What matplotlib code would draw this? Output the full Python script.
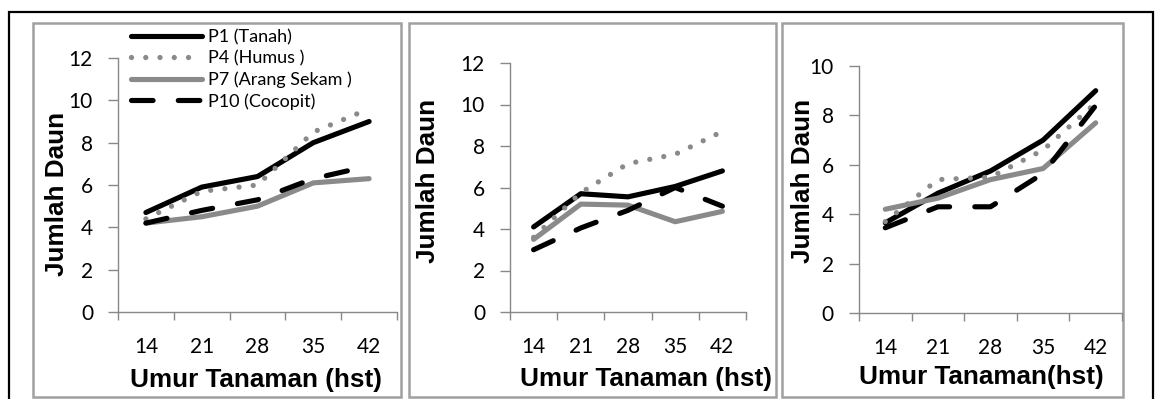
import matplotlib
matplotlib.use("Agg")
import matplotlib.pyplot as plt
from matplotlib.patches import Rectangle

# ---------------- data ----------------
x_labels = ["14", "21", "28", "35", "42"]
series_names = ["P1 (Tanah)", "P4 (Humus )", "P7 (Arang Sekam )", "P10 (Cocopit)"]

p1_a = [4.7, 5.9, 6.4, 8.0, 9.0]
p4_a = [4.4, 5.7, 6.0, 8.5, 9.6]
p7_a = [4.2, 4.5, 5.0, 6.1, 6.3]
p10_a = [4.2, 4.8, 5.3, 6.3, 6.9]

p1_b = [4.1, 5.7, 5.55, 6.05, 6.8]
p4_b = [3.6, 5.75, 7.15, 7.6, 8.7]
p7_b = [3.5, 5.2, 5.15, 4.35, 4.85]
p10_b = [3.0, 4.05, 4.9, 6.0, 5.1]

p1_c = [3.65, 4.85, 5.75, 7.0, 9.0]
p4_c = [3.7, 5.4, 5.5, 6.6, 8.5]
p7_c = [4.2, 4.65, 5.4, 5.85, 7.7]
p10_c = [3.45, 4.3, 4.3, 5.65, 8.4]

y_ticks_ab = [0, 2, 4, 6, 8, 10, 12]
y_ticks_c = [0, 2, 4, 6, 8, 10]
y_label = "Jumlah Daun"
x_label_ab = "Umur Tanaman (hst)"
x_label_c = "Umur Tanaman(hst)"

# ---------------- layout ----------------
W, H = 1159, 399
DPI = 100
fig = plt.figure(figsize=(W / DPI, H / DPI), dpi=DPI)
fig.patch.set_facecolor("white")

def fx(px):
    return px / W

def fy(py):
    return 1 - py / H

def add_axes_px(x0, x1, ytop, ybot):
    return fig.add_axes([fx(x0), fy(ybot), fx(x1) - fx(x0), (ybot - ytop) / H])

# outer black frame
fig.add_artist(Rectangle((fx(9), fy(410)), fx(1153) - fx(9), fy(12) - fy(410),
                         transform=fig.transFigure, fill=False, edgecolor="black",
                         lw=1.6, zorder=0))
# panel gray frames
for (x0, x1) in [(33, 401), (409, 776), (782, 1123)]:
    fig.add_artist(Rectangle((fx(x0), fy(397)), fx(x1) - fx(x0), fy(23) - fy(397),
                             transform=fig.transFigure, fill=False, edgecolor="#a0a0a0",
                             lw=1.8, zorder=0))

GRAY = "#8a8a8a"
AX = "#888888"
TICKFONT = "Lato"
LABFONT = "Liberation Sans"
LW = 3.7

def style(ax, yticks, ymax):
    ax.set_xlim(-0.5, 4.5)
    ax.set_ylim(0, ymax)
    for s in ["top", "right"]:
        ax.spines[s].set_visible(False)
    for s in ["left", "bottom"]:
        ax.spines[s].set_color(AX)
        ax.spines[s].set_linewidth(1.0)
    ax.set_xticks([-0.5, 0.5, 1.5, 2.5, 3.5, 4.5])
    ax.set_xticklabels([])
    ax.set_xticks(range(len(x_labels)), minor=True)
    ax.set_xticklabels(x_labels, minor=True, fontsize=15, family=TICKFONT)
    ax.tick_params(axis="x", which="major", length=6, width=1.0, color=AX, direction="out")
    ax.tick_params(axis="x", which="minor", length=0, pad=18)
    ax.set_yticks(yticks)
    ax.set_yticklabels([str(t) for t in yticks], fontsize=15, family=TICKFONT)
    ax.tick_params(axis="y", length=7, width=1.0, color=AX, direction="out", pad=11)
    ax.patch.set_alpha(0)

def draw(ax, p1, p4, p7, p10):
    x = list(range(len(x_labels)))
    l1, = ax.plot(x, p1, color="black", lw=LW, solid_capstyle="round",
                  solid_joinstyle="round", zorder=3, label=series_names[0])
    l4, = ax.plot(x, p4, color=GRAY, lw=3.8, zorder=4, label=series_names[1])
    l4.set_dashes([0.001, 2.7])
    l4.set_dash_capstyle("round")
    l7, = ax.plot(x, p7, color=GRAY, lw=LW, solid_capstyle="round",
                  solid_joinstyle="round", zorder=5, label=series_names[2])
    l10, = ax.plot(x, p10, color="black", lw=LW, zorder=6, label=series_names[3])
    l10.set_dashes([4.2, 4.9])
    l10.set_dash_capstyle("round")
    for l in (l1, l4, l7, l10):
        l.set_clip_on(False)
    return [l1, l4, l7, l10]

ax1 = add_axes_px(118, 397, 58, 312)
ax2 = add_axes_px(510, 746, 63, 312)
ax3 = add_axes_px(859, 1122, 66, 313)

style(ax1, y_ticks_ab, 12)
style(ax2, y_ticks_ab, 12)
style(ax3, y_ticks_c, 10)

handles = draw(ax1, p1_a, p4_a, p7_a, p10_a)
draw(ax2, p1_b, p4_b, p7_b, p10_b)
draw(ax3, p1_c, p4_c, p7_c, p10_c)

leg = ax1.legend(handles=handles, loc="upper left",
                 bbox_to_anchor=(fx(131), fy(29)), bbox_transform=fig.transFigure,
                 frameon=False, borderpad=0, borderaxespad=0,
                 handlelength=3.95, handletextpad=0.33, labelspacing=0.28,
                 prop={"family": TICKFONT, "size": 13})

# axis labels
for xc, yc in [(57, 194), (428, 181), (803, 181)]:
    fig.text(fx(xc), fy(yc), y_label, rotation=90, ha="center", va="center",
             family=LABFONT, fontweight="bold", fontsize=18.8)
for xc, yb, txt in [(255.5, 387, x_label_ab), (646, 386, x_label_ab), (981, 384, x_label_c)]:
    fig.text(fx(xc), fy(yb), txt, ha="center", va="baseline",
             family=LABFONT, fontweight="bold", fontsize=18.8)

fig.savefig("out.png", dpi=DPI)
